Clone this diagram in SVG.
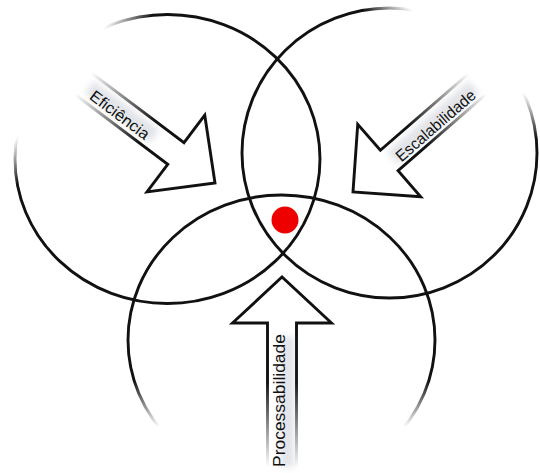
<svg xmlns="http://www.w3.org/2000/svg" width="540" height="473" viewBox="0 0 540 473">
  <defs>
    <style>
      .ring { fill: none; stroke-width: 2.9; }
      .arrow { fill: #ffffff; stroke-width: 2.9; stroke-linejoin: miter; }
      .label { font-family: "Liberation Sans", Arial, sans-serif; fill: #111; text-anchor: middle; dominant-baseline: central; }
      .haze { fill: #8e96a8; opacity: 0.25; }
    </style>
    <linearGradient id="fadeLeft" x1="0.5" y1="0.5" x2="0.101" y2="0.199">
      <stop offset="0" stop-color="#111"/>
      <stop offset="0.68" stop-color="#111"/>
      <stop offset="0.88" stop-color="#111" stop-opacity="0"/>
    </linearGradient>
    <linearGradient id="fadeRight" x1="0.5" y1="0.5" x2="0.801" y2="0.101">
      <stop offset="0" stop-color="#111"/>
      <stop offset="0.68" stop-color="#111"/>
      <stop offset="0.88" stop-color="#111" stop-opacity="0"/>
    </linearGradient>
    <linearGradient id="fadeBottom" x1="0" y1="0" x2="0" y2="1">
      <stop offset="0" stop-color="#111"/>
      <stop offset="0.64" stop-color="#111"/>
      <stop offset="0.8" stop-color="#111" stop-opacity="0"/>
    </linearGradient>
    <linearGradient id="shaftFade" gradientUnits="userSpaceOnUse" x1="-165" y1="0" x2="-85" y2="0">
      <stop offset="0" stop-color="#111" stop-opacity="0"/>
      <stop offset="1" stop-color="#111"/>
    </linearGradient>
    <linearGradient id="shaftFadeLong" gradientUnits="userSpaceOnUse" x1="-190" y1="0" x2="-105" y2="0">
      <stop offset="0" stop-color="#111" stop-opacity="0"/>
      <stop offset="1" stop-color="#111"/>
    </linearGradient>
    <filter id="soft" x="-20%" y="-50%" width="140%" height="200%">
      <feGaussianBlur stdDeviation="3"/>
    </filter>
  </defs>

  <rect width="540" height="473" fill="#ffffff"/>

  <g id="circle-left">
    <ellipse class="ring" cx="167.5" cy="159" rx="152.5" ry="144.5" stroke="url(#fadeLeft)"/>
  </g>
  <g id="circle-right">
    <ellipse class="ring" cx="389.5" cy="153" rx="147.5" ry="145" stroke="url(#fadeRight)"/>
  </g>
  <g id="circle-bottom">
    <ellipse class="ring" cx="281.5" cy="340" rx="153.5" ry="145" stroke="url(#fadeBottom)"/>
  </g>

  <g id="center-dot">
    <circle cx="285" cy="220" r="13.5" fill="#ee0000"/>
  </g>

  <g id="arrow-eficiencia" transform="translate(215,183) rotate(37)">
    <path class="arrow" stroke="url(#shaftFade)" d="M-165,-13.5 L-49,-13.5 L-49,-48 L0,0 L-49,48 L-49,13.5 L-165,13.5"/>
    <rect class="haze" x="-158" y="-9" width="82" height="16" filter="url(#soft)"/>
    <text class="label" x="-117" y="3" font-size="16" textLength="70" lengthAdjust="spacingAndGlyphs">Eficiência</text>
  </g>

  <g id="arrow-escalabilidade" transform="translate(353,192) rotate(139)">
    <path class="arrow" stroke="url(#shaftFade)" d="M-165,-13.5 L-48,-13.5 L-48,-48 L0,0 L-48,48 L-48,13.5 L-165,13.5"/>
    <rect class="haze" x="-160" y="-8" width="108" height="16" filter="url(#soft)"/>
    <text class="label" transform="translate(-106,-4) rotate(180)" font-size="16" textLength="100" lengthAdjust="spacingAndGlyphs">Escalabilidade</text>
  </g>

  <g id="arrow-processabilidade" transform="translate(282,277) rotate(-90)">
    <path class="arrow" stroke="url(#shaftFadeLong)" d="M-192,-14.5 L-46,-14.5 L-46,-49.5 L0,0 L-46,49.5 L-46,14.5 L-192,14.5"/>
    <rect class="haze" x="-190" y="-2" width="130" height="14" filter="url(#soft)"/>
    <text class="label" x="-123.5" y="-3" font-size="17" textLength="133" lengthAdjust="spacingAndGlyphs">Processabilidade</text>
  </g>
</svg>
